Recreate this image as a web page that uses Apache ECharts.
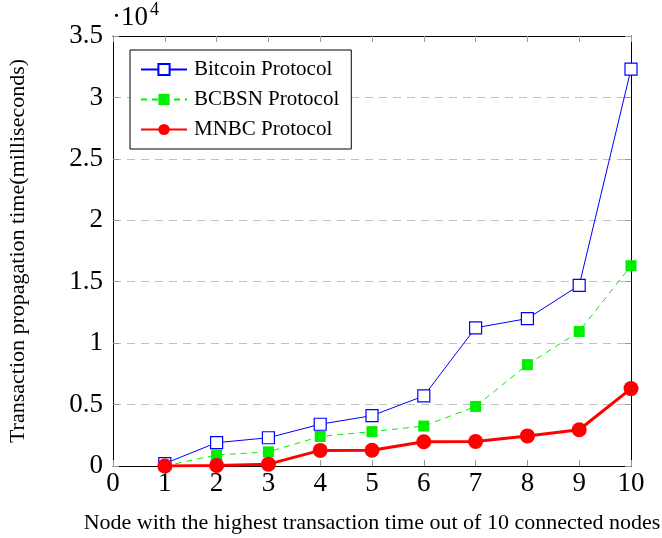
<!DOCTYPE html>
<html><head><meta charset="utf-8">
<script src="https://cdn.jsdelivr.net/npm/echarts@6/dist/echarts.min.js"></script>
<style>html,body{margin:0;padding:0;background:#fff}#c{width:662px;height:538px}</style>
</head><body><div id="c"></div>
<script>
var nodes = [1, 2, 3, 4, 5, 6, 7, 8, 9, 10];
var bitcoin = [200, 1900, 2300, 3400, 4100, 5700, 11250, 12000, 14700, 32300];
var bcbsn = [0, 900, 1150, 2400, 2800, 3250, 4850, 8250, 10950, 16300];
var mnbc = [0, 50, 150, 1270, 1280, 1970, 2000, 2450, 2950, 6300];
var yTickLabels = ['0', '0.5', '1', '1.5', '2', '2.5', '3', '3.5'];

function pairs(v) { return nodes.map(function (x, i) { return [x, v[i]]; }); }
var F = 'Liberation Serif';
var chart = echarts.init(document.getElementById('c'), null, { renderer: 'canvas' });
var tickStyle = { show: true, inside: true, length: 6, lineStyle: { color: '#999', width: 1 } };
chart.setOption({
  animation: false,
  backgroundColor: '#fff',
  grid: { left: 113, right: 31, top: 36, bottom: 72, show: false, containLabel: false, outerBoundsMode: 'none' },
  legend: {
    orient: 'vertical', left: 130, top: 50,
    padding: [9, 12, 9, 10], itemGap: 9, itemWidth: 46, itemHeight: 14,
    backgroundColor: '#fff', borderColor: '#000', borderWidth: 1,
    textStyle: { fontFamily: F, fontSize: 21, color: '#000', padding: [0, 0, 0, 2] },
    data: ['Bitcoin Protocol', 'BCBSN Protocol', 'MNBC Protocol']
  },
  graphic: [
    { type: 'text', left: 112, top: 4, style: { text: '·10', font: '27px "Liberation Serif"', fill: '#000' } },
    { type: 'text', left: 150, top: 1, style: { text: '4', font: '18px "Liberation Serif"', fill: '#000' } }
  ],
  xAxis: [{
    type: 'value', min: 0, max: 10, interval: 1,
    name: 'Node with the highest transaction time out of 10 connected nodes',
    nameLocation: 'middle', nameGap: 46,
    nameTextStyle: { fontFamily: F, fontSize: 22, color: '#000' },
    axisLine: { show: true, onZero: false, lineStyle: { color: '#000', width: 1 } },
    axisTick: tickStyle,
    axisLabel: { fontFamily: F, fontSize: 27, color: '#000', margin: 4 },
    splitLine: { show: false }
  }, {
    type: 'value', min: 0, max: 10, interval: 1, position: 'top',
    axisLine: { show: true, onZero: false, lineStyle: { color: '#000', width: 1 } },
    axisTick: tickStyle, axisLabel: { show: false }, splitLine: { show: false }
  }],
  yAxis: [{
    type: 'value', min: 0, max: 35000, interval: 5000,
    name: 'Transaction propagation time(milliseconds)',
    nameLocation: 'middle', nameGap: 84,
    nameTextStyle: { fontFamily: F, fontSize: 22, color: '#000' },
    axisLine: { show: true, onZero: false, lineStyle: { color: '#000', width: 1 } },
    axisTick: tickStyle,
    axisLabel: { fontFamily: F, fontSize: 27, color: '#000', margin: 10,
      formatter: function (v) { return yTickLabels[Math.round(v / 5000)]; } },
    splitLine: { show: true, lineStyle: { color: '#c0c0c0', type: [8, 6], width: 1 } }
  }, {
    type: 'value', min: 0, max: 35000, interval: 5000, position: 'right',
    axisLine: { show: true, onZero: false, lineStyle: { color: '#000', width: 1 } },
    axisTick: tickStyle, axisLabel: { show: false }, splitLine: { show: false }
  }],
  series: [{
    name: 'Bitcoin Protocol', type: 'line', data: pairs(bitcoin),
    symbol: 'rect', symbolSize: 12, showAllSymbol: true,
    lineStyle: { color: '#0000ff', width: 1 },
    itemStyle: { color: '#fff', borderColor: '#0000ff', borderWidth: 1.2 },
    z: 3
  }, {
    name: 'BCBSN Protocol', type: 'line', data: pairs(bcbsn),
    symbol: 'rect', symbolSize: 11,
    lineStyle: { color: '#00ee00', width: 1, type: [6, 5] },
    itemStyle: { color: '#00ee00', borderWidth: 0 },
    z: 4
  }, {
    name: 'MNBC Protocol', type: 'line', data: pairs(mnbc),
    symbol: 'circle', symbolSize: 15,
    lineStyle: { color: '#ff0000', width: 3 },
    itemStyle: { color: '#ff0000', borderWidth: 0 },
    z: 5
  }]
});
</script></body></html>
